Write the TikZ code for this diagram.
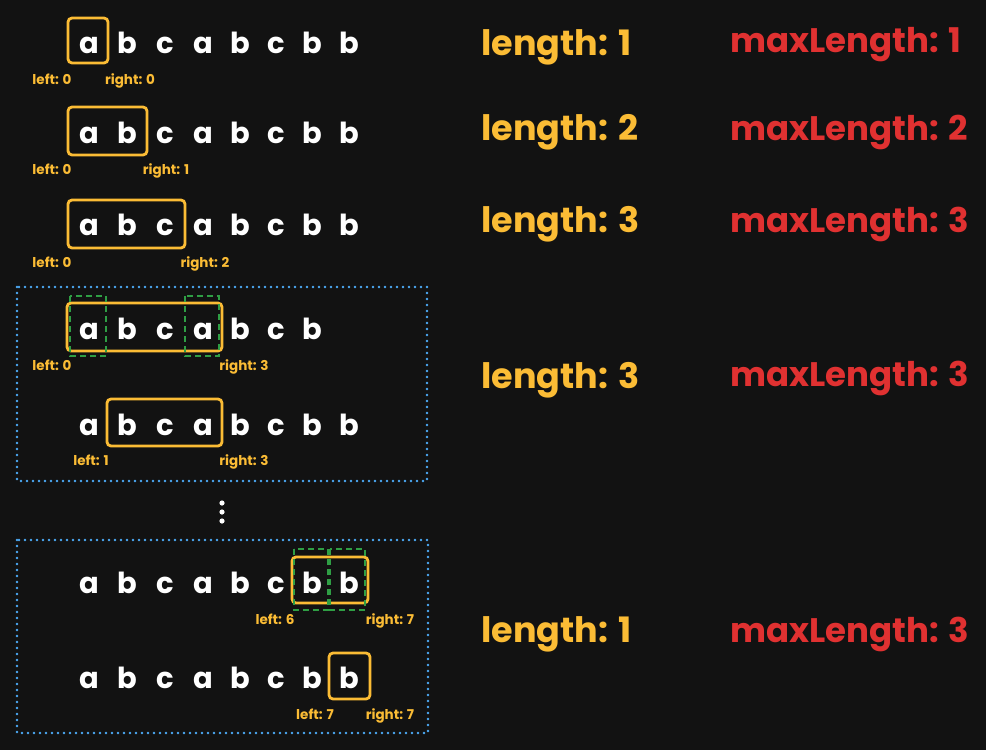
\documentclass[tikz,border=0pt]{standalone}
\usepackage{fontspec}
\setmainfont{Poppins}
\usepackage{xcolor}

\definecolor{bgdark}{HTML}{121212}
\definecolor{winorange}{HTML}{FBBC35}
\definecolor{maxred}{HTML}{E03131}
\definecolor{dupgreen}{HTML}{2F9E44}
\definecolor{stepblue}{HTML}{4DABF7}

\tikzset{
    letter/.style={text=white, anchor=base, inner sep=0pt, font=\fontsize{29}{29}\selectfont\bfseries},
    window/.style={draw=winorange, line width=2.8pt, rounded corners=4pt},
    dupbox/.style={draw=dupgreen, line width=2.8pt, dash pattern=on 6pt off 4pt},
    pointer/.style={text=winorange, anchor=base, inner sep=0pt, font=\fontsize{13.5}{13.5}\selectfont\bfseries},
    lenlabel/.style={text=winorange, anchor=base west, inner sep=0pt, font=\fontsize{35}{35}\selectfont\bfseries},
    maxlabel/.style={text=maxred, anchor=base west, inner sep=0pt, font=\fontsize{34}{34}\selectfont\bfseries},
    stepframe/.style={draw=stepblue, line width=2.8pt, dash pattern=on 0pt off 6pt, line cap=round},
}

\begin{document}
\begin{tikzpicture}[x=1pt,y=-1pt]
        \fill[bgdark] (0,0) rectangle (986,750);
        \useasboundingbox (0,0) rectangle (986,750);

        % the string, one row per step
        \foreach \row/\y in {1/53,2/143,3/235,5/435,6/593,7/688}{
            \foreach \ch [count=\i] in {a,b,c,a,b,c,b,b}{
                \pgfmathsetmacro{\xx}{{89,127,165,203,240,276,312,349}[\i-1]}
                \node[letter] (s\row-\i) at (\xx,\y) {\ch};
            }
        }
        \foreach \ch [count=\i] in {a,b,c,a,b,c,b}{
            \pgfmathsetmacro{\xx}{{89,127,165,203,240,276,312}[\i-1]}
            \node[letter] (s4-\i) at (\xx,339) {\ch};
        }

        % windows
        \draw[window] (68,18) rectangle (108,63);
        \draw[window] (68,107) rectangle (147,155);
        \draw[window] (68,200) rectangle (185,248);
        \draw[window] (67,303) rectangle (222,351);
        \draw[window] (107,399) rectangle (222,446);
        \draw[window] (292,557) rectangle (368,603);
        \draw[window] (329,653) rectangle (370,699);

        % repeated characters
        \draw[dupbox] (70,296) rectangle (106,356);
        \draw[dupbox] (185,296) rectangle (219,356);
        \draw[dupbox] (294,549) rectangle (328,610);
        \draw[dupbox] (330,549) rectangle (365,610);

        % pointers
        \node[pointer] (l1) at (52,84) {left: 0};
        \node[pointer] (r1) at (130,84) {right: 0};
        \node[pointer] (l2) at (52,174) {left: 0};
        \node[pointer] (r2) at (166,174) {right: 1};
        \node[pointer] (l3) at (52,267) {left: 0};
        \node[pointer] (r3) at (205,267) {right: 2};
        \node[pointer] (l4) at (52,370) {left: 0};
        \node[pointer] (r4) at (244,370) {right: 3};
        \node[pointer] (l5) at (91,465) {left: 1};
        \node[pointer] (r5) at (244,465) {right: 3};
        \node[pointer] (l6) at (275,624) {left: 6};
        \node[pointer] (r6) at (390,624) {right: 7};
        \node[pointer] (l7) at (315,719) {left: 7};
        \node[pointer] (r7) at (390,719) {right: 7};

        % step groups
        \draw[stepframe] (17,287) rectangle (427,481);
        \draw[stepframe] (17,540) rectangle (428,733);
        \foreach \y in {503,512,521}{
            \fill[white] (222,\y) circle (2.6);
        }

        % lengths
        \node[lenlabel] (len1) at (481,55) {length: 1};
        \node[lenlabel] (len2) at (481,140) {length: 2};
        \node[lenlabel] (len3) at (481,232) {length: 3};
        \node[lenlabel] (len4) at (481,388) {length: 3};
        \node[lenlabel] (len5) at (481,642) {length: 1};
        \node[maxlabel] (max1) at (730,52) {maxLength: 1};
        \node[maxlabel] (max2) at (730,140) {maxLength: 2};
        \node[maxlabel] (max3) at (730,232) {maxLength: 3};
        \node[maxlabel] (max4) at (730,386) {maxLength: 3};
        \node[maxlabel] (max5) at (730,642) {maxLength: 3};

    \end{tikzpicture}
\end{document}
